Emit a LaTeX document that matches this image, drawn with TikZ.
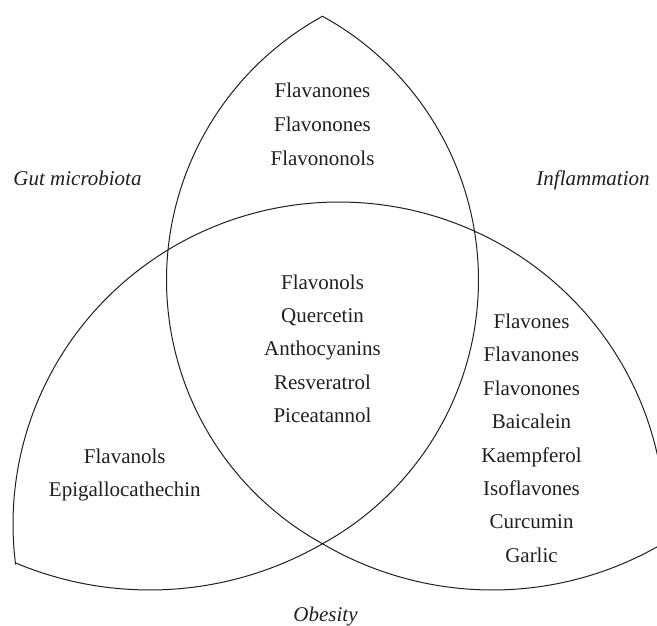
\documentclass[tikz,border=0pt]{standalone}
\usepackage{fontspec}
\setmainfont{Liberation Serif}
\definecolor{ink}{HTML}{231F20}
\begin{document}
\begin{tikzpicture}[x=1pt,y=-1pt,
  curve/.style={line width=1pt, draw=ink, line join=miter},
  lbl/.style={font=\fontsize{21}{25}\selectfont, text=ink, inner sep=0pt, anchor=base},
  cat/.style={lbl, font=\fontsize{21}{25}\selectfont\itshape}]
\useasboundingbox (0,0) rectangle (657,626);
\clip (0,0) rectangle (657,626);
\fill[white] (0,0) rectangle (657,626);

% outline: B (top lobe right side) -> E (left lobe bottom) -> C (big arc) -> D (right lobe bottom) -> A (top lobe left side)
\draw[curve]
  plot[domain=-61.2:61.2, samples=90, variable=\t] ({177.5+301*cos(\t)},{280+301*sin(\t)})
  -- plot[domain=60.06:112.8, samples=50, variable=\t] ({149.7+346.2*cos(\t)},{243.8+346.2*sin(\t)})
  -- plot[domain=173:363.7, samples=160, variable=\t] ({339+326*cos(\t)},{524+322*sin(\t)})
  -- plot[domain=59.5:120.4, samples=60, variable=\t] ({492.5+335.7*cos(\t)},{254.3+335.7*sin(\t)})
  -- plot[domain=118.8:241.2, samples=90, variable=\t] ({467.5+301*cos(\t)},{280+301*sin(\t)})
  -- cycle;

% top lobe
\foreach \w [count=\i from 0] in {Flavanones,Flavonones,Flavononols}
  \node[lbl] (top\i) at (322.5,{98+33.5*\i}) {\w};
% centre
\foreach \w [count=\i from 0] in {Flavonols,Quercetin,Anthocyanins,Resveratrol,Piceatannol}
  \node[lbl] (mid\i) at (322.5,{289.4+33.25*\i}) {\w};
% right lobe
\foreach \w [count=\i from 0] in {Flavones,Flavanones,Flavonones,Baicalein,Kaempferol,Isoflavones,Curcumin,Garlic}
  \node[lbl] (rgt\i) at (531.5,{328.5+33.4*\i}) {\w};
% left lobe
\node[lbl] (lft0) at (124.8,463) {Flavanols};
\node[lbl] (lft1) at (124.8,496.4) {Epigallocathechin};

% category labels
\node[cat] (gut) at (77.5,185.5) {Gut microbiota};
\node[cat] (infl) at (593,185.5) {Inflammation};
\node[cat] (obes) at (325.5,621.5) {Obesity};
\end{tikzpicture}
\end{document}
